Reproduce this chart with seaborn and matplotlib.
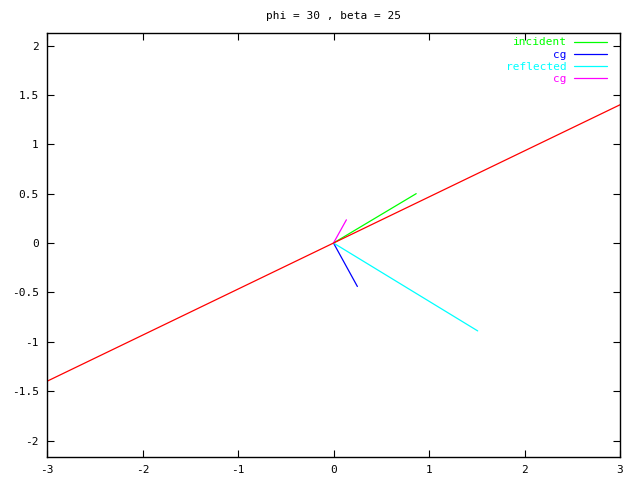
import numpy as np
import pandas as pd
import matplotlib
matplotlib.use("Agg")
import matplotlib.pyplot as plt
import seaborn as sns

title = "phi = 30 , beta = 25"

# boundary line (beta = 25 deg)
line_x = [-3.0, 3.0]
line_y = [-1.40, 1.40]

incident_x = [0.0, 0.866]
incident_y = [0.0, 0.50]

cg1_x = [0.0, 0.25]
cg1_y = [0.0, -0.44]

reflected_x = [0.0, 1.51]
reflected_y = [0.0, -0.89]

cg2_x = [0.0, 0.135]
cg2_y = [0.0, 0.235]

xticks = [-3, -2, -1, 0, 1, 2, 3]
yticks = [-2, -1.5, -1, -0.5, 0, 0.5, 1, 1.5, 2]

sns.set_style("ticks")
plt.rcParams["font.family"] = ["DejaVu Sans Mono"]
plt.rcParams["text.color"] = "black"

fig = plt.figure(figsize=(6.4, 4.8), dpi=100)
ax = fig.add_axes([47/640, 23/480, 573/640, 424/480])

series = [
    ("incident", incident_x, incident_y, "#00ff00"),
    ("cg", cg1_x, cg1_y, "#0000ff"),
    ("reflected", reflected_x, reflected_y, "#00ffff"),
    ("cg", cg2_x, cg2_y, "#ff00ff"),
]
handles = []
for name, xs, ys, c in series:
    df = pd.DataFrame({"x": xs, "y": ys})
    sns.lineplot(data=df, x="x", y="y", ax=ax, color=c, lw=0.9,
                 sort=False, estimator=None, legend=False)
    handles.append(ax.get_lines()[-1])

dfl = pd.DataFrame({"x": line_x, "y": line_y})
sns.lineplot(data=dfl, x="x", y="y", ax=ax, color="#ff0000", lw=0.9,
             sort=False, estimator=None, legend=False)

ax.set_xlim(-3, 3)
ax.set_ylim(-2.167, 2.127)
ax.set_xticks(xticks)
ax.set_xticklabels([f"{t:g}" for t in xticks])
ax.set_yticks(yticks)
ax.set_yticklabels([f"{t:g}" for t in yticks])
ax.set_xlabel("")
ax.set_ylabel("")
ax.tick_params(direction="in", top=True, right=True, labelsize=8, length=5,
               width=0.8, pad=6, colors="black")
for s in ax.spines.values():
    s.set_visible(True)
    s.set_linewidth(1.0)
    s.set_color("black")

ax.set_title(title, fontsize=8, pad=10, color="black")

leg = ax.legend(handles, [s[0] for s in series], loc="upper right",
                bbox_to_anchor=(0.985, 1.0),
                frameon=False, markerfirst=False,
                fontsize=8, labelcolor="linecolor", handlelength=3.0,
                borderaxespad=0.2, borderpad=0.2, labelspacing=0.2,
                handletextpad=0.6)
for t in leg.get_texts():
    t.set_ha("right")

fig.savefig("out.png", dpi=100)
